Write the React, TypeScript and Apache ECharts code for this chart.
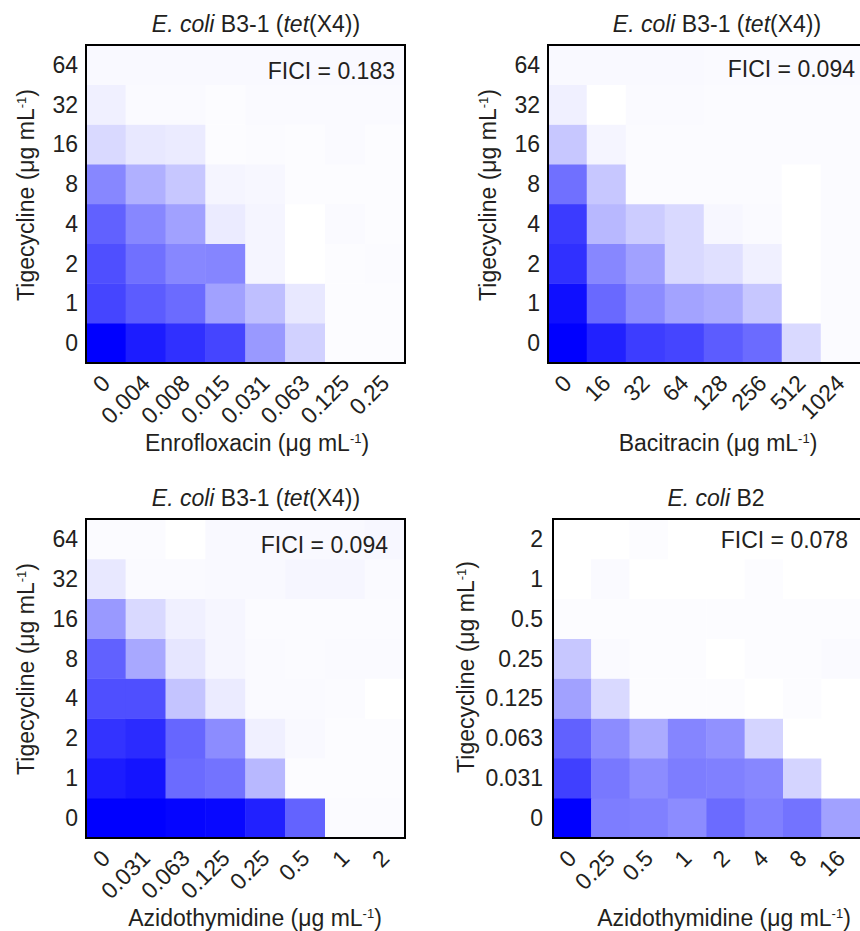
import React, { useEffect, useRef } from "react";
import * as echarts from "echarts";

const FONT = '"Liberation Sans", Arial, Helvetica, sans-serif';
const INK = "#231f20";

// category labels
const enroLabels = ["0", "0.004", "0.008", "0.015", "0.031", "0.063", "0.125", "0.25"];
const baciLabels = ["0", "16", "32", "64", "128", "256", "512", "1024"];
const aztLabelsA = ["0", "0.031", "0.063", "0.125", "0.25", "0.5", "1", "2"];
const aztLabelsB = ["0", "0.25", "0.5", "1", "2", "4", "8", "16"];
const tigLabelsA = ["0", "1", "2", "4", "8", "16", "32", "64"];
const tigLabelsB = ["0", "0.031", "0.063", "0.125", "0.25", "0.5", "1", "2"];

// relative growth, rows from tigecycline = 0 (bottom) upward
const enroGrowth = [
  [1.0, 0.89, 0.81, 0.73, 0.4, 0.18, 0.01, 0.01],
  [0.73, 0.64, 0.58, 0.37, 0.25, 0.09, 0.01, 0.01],
  [0.69, 0.56, 0.47, 0.48, 0.04, 0.0, 0.01, 0.015],
  [0.62, 0.47, 0.37, 0.08, 0.04, 0.0, 0.02, 0.01],
  [0.47, 0.31, 0.22, 0.04, 0.03, 0.01, 0.01, 0.01],
  [0.15, 0.09, 0.08, 0.01, 0.015, 0.01, 0.02, 0.01],
  [0.06, 0.02, 0.02, 0.01, 0.02, 0.02, 0.02, 0.02],
  [0.025, 0.025, 0.025, 0.025, 0.025, 0.025, 0.025, 0.025],
];
const baciGrowth = [
  [1.0, 0.87, 0.76, 0.73, 0.64, 0.58, 0.15, 0.015],
  [0.94, 0.59, 0.45, 0.36, 0.33, 0.22, 0.0, 0.015],
  [0.81, 0.47, 0.37, 0.15, 0.12, 0.06, 0.0, 0.015],
  [0.77, 0.28, 0.2, 0.15, 0.03, 0.02, 0.0, 0.015],
  [0.56, 0.22, 0.015, 0.015, 0.015, 0.015, 0.0, 0.015],
  [0.22, 0.04, 0.015, 0.015, 0.015, 0.015, 0.015, 0.015],
  [0.06, 0.0, 0.02, 0.02, 0.015, 0.015, 0.015, 0.015],
  [0.025, 0.025, 0.025, 0.025, 0.02, 0.02, 0.02, 0.02],
];
const aztGrowthA = [
  [1.0, 1.0, 0.98, 0.97, 0.87, 0.61, 0.015, 0.015],
  [0.89, 0.92, 0.58, 0.55, 0.28, 0.01, 0.01, 0.01],
  [0.8, 0.83, 0.6, 0.45, 0.06, 0.025, 0.01, 0.01],
  [0.69, 0.69, 0.23, 0.08, 0.02, 0.02, 0.015, 0.0],
  [0.62, 0.34, 0.1, 0.035, 0.02, 0.015, 0.02, 0.02],
  [0.4, 0.15, 0.06, 0.035, 0.015, 0.015, 0.015, 0.015],
  [0.09, 0.02, 0.02, 0.025, 0.025, 0.035, 0.035, 0.02],
  [0.015, 0.015, 0.0, 0.025, 0.025, 0.025, 0.025, 0.03],
];
const aztGrowthB = [
  [1.0, 0.51, 0.5, 0.45, 0.58, 0.5, 0.55, 0.37],
  [0.75, 0.53, 0.45, 0.51, 0.5, 0.47, 0.17, 0.0],
  [0.62, 0.45, 0.33, 0.48, 0.43, 0.17, 0.0, 0.0],
  [0.37, 0.15, 0.01, 0.01, 0.01, 0.0, 0.01, 0.0],
  [0.22, 0.02, 0.01, 0.01, 0.0, 0.01, 0.01, 0.02],
  [0.01, 0.01, 0.01, 0.01, 0.01, 0.01, 0.01, 0.01],
  [0.0, 0.02, 0.0, 0.0, 0.0, 0.01, 0.0, 0.0],
  [0.0, 0.0, 0.01, 0.0, 0.0, 0.0, 0.0, 0.0],
];

const ficiValues = ["0.183", "0.094", "0.094", "0.078"];
const xNames = ["Enrofloxacin", "Bacitracin", "Azidothymidine", "Azidothymidine"];
const strains = ["B3-1 (tet(X4))", "B3-1 (tet(X4))", "B3-1 (tet(X4))", "B2"];

// layout of the four panels
const panels = [
  { left: 86, top: 45, width: 319, height: 318, title: [256, 24], fici: [395, 71], xName: [257, 443], yName: [26, 195] },
  { left: 548, top: 45, width: 320, height: 318, title: [717, 24], fici: [855, 69], xName: [718, 443], yName: [488, 195] },
  { left: 86, top: 519, width: 319, height: 319, title: [256, 498], fici: [388, 545], xName: [255, 918], yName: [26, 669] },
  { left: 553, top: 519, width: 320, height: 319, title: [716, 498], fici: [848, 540], xName: [724, 918], yName: [466, 667] },
];

const xLabelSets = [enroLabels, baciLabels, aztLabelsA, aztLabelsB];
const yLabelSets = [tigLabelsA, tigLabelsA, tigLabelsA, tigLabelsB];
const grids = [enroGrowth, baciGrowth, aztGrowthA, aztGrowthB];

function toCells(m: number[][]) {
  const out: number[][] = [];
  m.forEach((row, yi) => row.forEach((v, xi) => out.push([xi, yi, v])));
  return out;
}

function titleText(strain: string) {
  const m = strain.match(/^(.*)\((tet)(\(X4\))\)$/);
  if (m) return `{i|E. coli} ${m[1]}({i|tet}(X4))`;
  return `{i|E. coli} ${strain}`;
}

export default function App() {
  const ref = useRef<HTMLDivElement>(null);
  useEffect(() => {
    document.body.style.margin = "0";
    if (!ref.current) return;
    const chart = echarts.init(ref.current, undefined, { renderer: "svg" });

    const graphics: any[] = [];
    panels.forEach((p, i) => {
      graphics.push({
        type: "rect",
        z: 100,
        shape: { x: p.left, y: p.top, width: p.width, height: p.height },
        style: { fill: "none", stroke: "#000", lineWidth: 2 },
      });
      graphics.push({
        type: "text",
        z: 100,
        x: p.title[0],
        y: p.title[1],
        style: {
          text: titleText(strains[i]),
          fontSize: 23,
          fontFamily: FONT,
          fill: INK,
          align: "center",
          verticalAlign: "middle",
          textAlign: "center",
          textVerticalAlign: "middle",
          rich: { i: { fontStyle: "italic", fontSize: 23, fontFamily: FONT, fill: INK, color: INK } },
        },
      });
      graphics.push({
        type: "text",
        z: 100,
        x: p.fici[0],
        y: p.fici[1],
        style: {
          text: `FICI = ${ficiValues[i]}`,
          fontSize: 23,
          fontFamily: FONT,
          fill: INK,
          align: "right",
          verticalAlign: "middle",
          textAlign: "right",
          textVerticalAlign: "middle",
        },
      });
      graphics.push({
        type: "text",
        z: 100,
        x: p.xName[0],
        y: p.xName[1],
        style: {
          text: `{n|${xNames[i]} (μg mL}{s|-1}{n|)}`,
          fontSize: 23,
          fontFamily: FONT,
          fill: INK,
          align: "center",
          verticalAlign: "middle",
          textAlign: "center",
          textVerticalAlign: "middle",
          rich: {
            n: { fontSize: 23, fontFamily: FONT, fill: INK, color: INK },
            s: { fontSize: 13, fontFamily: FONT, fill: INK, color: INK, verticalAlign: "top" },
          },
        },
      });
      graphics.push({
        type: "text",
        z: 100,
        x: p.yName[0],
        y: p.yName[1],
        rotation: Math.PI / 2,
        style: {
          text: `{n|Tigecycline (μg mL}{s|-1}{n|)}`,
          fontSize: 23,
          fontFamily: FONT,
          fill: INK,
          align: "center",
          verticalAlign: "middle",
          textAlign: "center",
          textVerticalAlign: "middle",
          rich: {
            n: { fontSize: 23, fontFamily: FONT, fill: INK, color: INK },
            s: { fontSize: 13, fontFamily: FONT, fill: INK, color: INK, verticalAlign: "top" },
          },
        },
      });
    });

    chart.setOption({
      animation: false,
      backgroundColor: "#ffffff",
      grid: panels.map((p) => ({ left: p.left, top: p.top, width: p.width, height: p.height, containLabel: false })),
      xAxis: panels.map((_, i) => ({
        type: "category",
        gridIndex: i,
        data: xLabelSets[i],
        axisLine: { show: false },
        axisTick: { show: false },
        splitLine: { show: false },
        axisLabel: {
          interval: 0,
          rotate: 45,
          margin: 16,
          fontSize: 23,
          fontFamily: FONT,
          color: INK,
          hideOverlap: false,
        },
      })),
      yAxis: panels.map((_, i) => ({
        type: "category",
        gridIndex: i,
        data: yLabelSets[i],
        axisLine: { show: false },
        axisTick: { show: false },
        splitLine: { show: false },
        axisLabel: {
          interval: 0,
          margin: i === 3 ? 10 : 8,
          fontSize: 23,
          fontFamily: FONT,
          color: INK,
        },
      })),
      visualMap: {
        show: false,
        type: "continuous",
        min: 0,
        max: 1,
        seriesIndex: [0, 1, 2, 3],
        inRange: { color: ["#ffffff", "#0000ff"] },
      },
      series: grids.map((g, i) => ({
        type: "heatmap",
        xAxisIndex: i,
        yAxisIndex: i,
        data: toCells(g),
        itemStyle: { borderWidth: 0 },
        emphasis: { disabled: true },
      })),
      graphic: graphics,
    });

    return () => chart.dispose();
  }, []);
  return <div ref={ref} style={{ width: 860, height: 931 }} />;
}
